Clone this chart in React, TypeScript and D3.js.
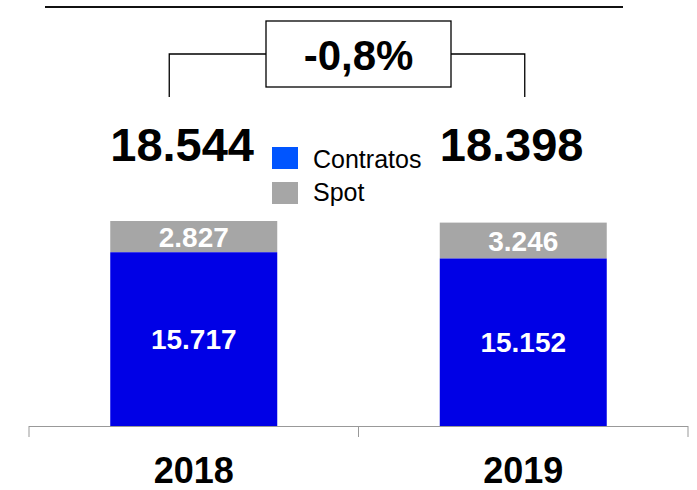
import * as d3 from "d3";

const years = ["2018", "2019"];
const contratos = [15717, 15152];
const spot = [2827, 3246];
const totals = ["18.544", "18.398"];
const contratosLabels = ["15.717", "15.152"];
const spotLabels = ["2.827", "3.246"];
const variation = "-0,8%";
const seriesNames = ["Contratos", "Spot"];

const width = 697;
const height = 490;
const FONT = "'Liberation Sans', Arial, Helvetica, sans-serif";

export default function App() {
  const x = d3.scaleBand().domain(years).range([29, 688]).paddingInner(0).paddingOuter(0);
  const barW = 167;
  const y = d3.scaleLinear().domain([0, 18544]).range([426, 221]);
  const barX = (yr: string) => (x(yr) as number) + x.bandwidth() / 2 - barW / 2;

  const x0 = barX(years[0]);
  const x1 = barX(years[1]);
  const bracketL = x0 + 59;
  const bracketR = x1 + 85;

  return (
    <svg width={width} height={height} style={{ position: "absolute", left: 0, top: 0 }} fontFamily={FONT}>
      {/* top rule */}
      <line x1={45} x2={623} y1={7} y2={7} stroke="#111" strokeWidth={2} />

      {/* variation bracket */}
      <g stroke="#000" strokeWidth={1.3} fill="none">
        <polyline points={`${bracketL},97 ${bracketL},54 266,54`} />
        <polyline points={`451,54 ${bracketR},54 ${bracketR},97`} />
        <rect x={266} y={21} width={185} height={66} fill="#fff" />
      </g>
      <text x={358.5} y={70} textAnchor="middle" fontSize={42} fontWeight="bold">{variation}</text>

      {/* bars */}
      {years.map((yr, i) => {
        const bx = barX(yr);
        const yC = y(contratos[i]);
        const yT = y(contratos[i] + spot[i]);
        return (
          <g key={yr}>
            <rect x={bx} y={yT} width={barW} height={yC - yT} fill="#A6A6A6" />
            <rect x={bx} y={yC} width={barW} height={y(0) - yC} fill="#0000E6" />
            <text x={bx + barW / 2} y={(yT + yC) / 2 + 10} textAnchor="middle" fill="#fff" fontSize={28} fontWeight="bold">{spotLabels[i]}</text>
            <text x={bx + barW / 2} y={(yC + y(0)) / 2 + 10} textAnchor="middle" fill="#fff" fontSize={28} fontWeight="bold">{contratosLabels[i]}</text>
            <text x={bx} y={161} fontSize={47} fontWeight="bold">{totals[i]}</text>
            <text x={bx + barW / 2} y={483} textAnchor="middle" fontSize={36} fontWeight="bold">{yr}</text>
          </g>
        );
      })}

      {/* axis */}
      <g stroke="#999" strokeWidth={1}>
        <line x1={29} x2={688} y1={426.5} y2={426.5} />
        {[...years.map((yr) => x(yr) as number), 688].map((t, i) => (
          <line key={i} x1={t} x2={t} y1={426} y2={437} />
        ))}
      </g>

      {/* legend */}
      {seriesNames.map((s, i) => (
        <g key={s}>
          <rect x={272} y={147 + i * 35} width={26} height={22} fill={i === 0 ? "#0055FF" : "#A6A6A6"} />
          <text x={313} y={168 + i * 33} fontSize={25}>{s}</text>
        </g>
      ))}
    </svg>
  );
}
